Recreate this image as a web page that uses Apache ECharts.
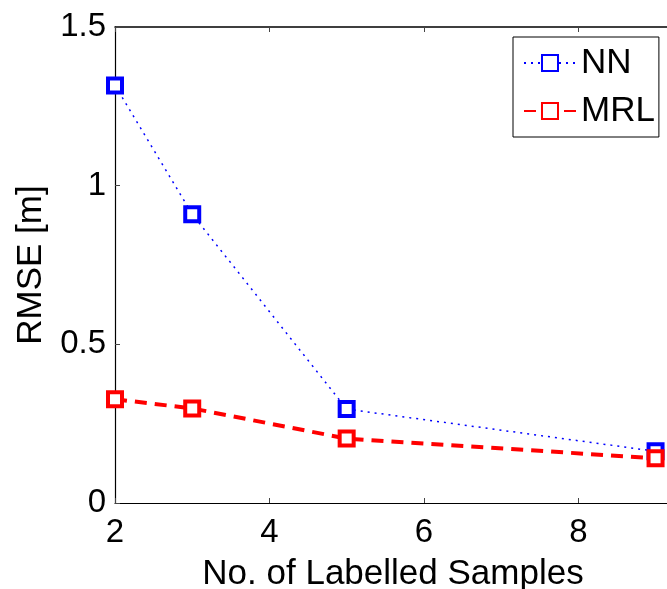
<!DOCTYPE html>
<html>
<head>
<meta charset="utf-8">
<script src="https://cdn.jsdelivr.net/npm/echarts@6/dist/echarts.min.js"></script>
<style>
  html, body { margin: 0; padding: 0; background: #fff; }
  #chart { width: 667px; height: 589px; }
</style>
</head>
<body>
<div id="chart"></div>
<script>
// Labelled-sample counts and RMSE per method
const samples = [2, 3, 5, 9];
const rmseNN = [1.316, 0.910, 0.296, 0.163];
const rmseMRL = [0.327, 0.298, 0.203, 0.141];
const seriesNames = ['NN', 'MRL'];
const xTitle = 'No. of Labelled Samples';
const yTitle = 'RMSE [m]';

const FONT = '"Liberation Sans", Arial, sans-serif';

const pairs = (xs, ys) => xs.map((x, i) => [x, ys[i]]);

const chart = echarts.init(document.getElementById('chart'), null, { renderer: 'canvas' });

function axisBase() {
  return {
    axisLine: { show: true, onZero: false, lineStyle: { color: '#000', width: 1.2 } },
    axisTick: { show: true, inside: true, length: 5, lineStyle: { color: '#444', width: 1 } },
    splitLine: { show: false }
  };
}

chart.setOption({
  animation: false,
  backgroundColor: '#fff',
  // plot area framed by axes on all sides; the right edge runs just past the canvas
  grid: {
    left: 115, top: 27, width: 556, height: 476,
    show: false, containLabel: false, outerBoundsMode: 'none'
  },
  legend: {
    orient: 'vertical',
    left: 513,
    top: 37,
    padding: [6, 4, 6, 10],
    itemGap: 8,
    itemWidth: 52,
    itemHeight: 20,
    itemTextGap: 10,
    borderColor: '#000',
    borderWidth: 1,
    backgroundColor: '#fff',
    textStyle: { fontFamily: FONT, fontSize: 35, color: '#000', lineHeight: 40 },
    data: seriesNames
  },
  xAxis: [
    Object.assign(axisBase(), {
      type: 'value',
      gridIndex: 0,
      min: 2,
      max: 9.2,
      interval: 2,
      position: 'bottom',
      axisLabel: { show: true, fontFamily: FONT, fontSize: 33, color: '#000', margin: 13, showMaxLabel: false },
      name: xTitle,
      nameLocation: 'middle',
      nameGap: 54,
      nameTextStyle: { fontFamily: FONT, fontSize: 35, color: '#000' }
    }),
    {
      type: 'value',
      gridIndex: 0,
      min: 2,
      max: 9.2,
      interval: 2,
      position: 'top',
      axisLine: { show: true, onZero: false, lineStyle: { color: '#000', width: 1.5 } },
      axisTick: { show: true, inside: true, length: 5, lineStyle: { color: '#444', width: 1 } },
      splitLine: { show: false },
      axisLabel: { show: false }
    }
  ],
  yAxis: [
    Object.assign(axisBase(), {
      type: 'value',
      gridIndex: 0,
      min: 0,
      max: 1.5,
      interval: 0.5,
      position: 'left',
      axisLabel: { show: true, fontFamily: FONT, fontSize: 33, color: '#000', margin: 9 },
      name: yTitle,
      nameLocation: 'middle',
      nameGap: 62,
      nameTextStyle: { fontFamily: FONT, fontSize: 35, color: '#000' }
    })
  ],
  series: [
    {
      name: seriesNames[0],
      type: 'line',
      data: pairs(samples, rmseNN),
      xAxisIndex: 0,
      yAxisIndex: 0,
      symbol: 'rect',
      symbolSize: 14,
      showAllSymbol: true,
      lineStyle: { color: '#0000ff', width: 1.5, type: [2, 5] },
      itemStyle: { color: '#fff', borderColor: '#0000ff', borderWidth: 4 },
      color: '#0000ff',
      z: 3
    },
    {
      name: seriesNames[1],
      type: 'line',
      data: pairs(samples, rmseMRL),
      xAxisIndex: 0,
      yAxisIndex: 0,
      symbol: 'rect',
      symbolSize: 14,
      showAllSymbol: true,
      lineStyle: { color: '#ff0000', width: 4, type: [12, 8] },
      itemStyle: { color: '#fff', borderColor: '#ff0000', borderWidth: 4 },
      color: '#ff0000',
      z: 4
    },
    {
      // empty series bound to the top axis so the frame line is drawn
      name: 'frame',
      type: 'line',
      data: [],
      xAxisIndex: 1,
      yAxisIndex: 0,
      silent: true
    }
  ]
});
</script>
</body>
</html>
